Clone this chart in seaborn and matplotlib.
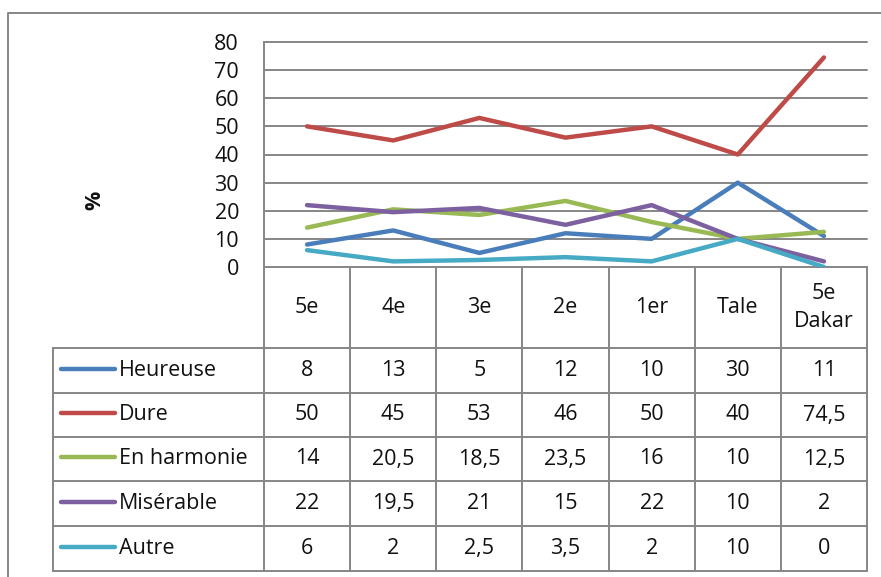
import matplotlib
matplotlib.use("Agg")
import matplotlib.pyplot as plt
import seaborn as sns
import pandas as pd

# Categories (school levels) and series values, in %
levels = ["5e", "4e", "3e", "2e", "1er", "Tale", "5e\nDakar"]
series_names = ["Heureuse", "Dure", "En harmonie", "Misérable", "Autre"]
heureuse = [8, 13, 5, 12, 10, 30, 11]
dure = [50, 45, 53, 46, 50, 40, 74.5]
harmonie = [14, 20.5, 18.5, 23.5, 16, 10, 12.5]
miserable = [22, 19.5, 21, 15, 22, 10, 2]
autre = [6, 2, 2.5, 3.5, 2, 10, 0]
y_ticks = [0, 10, 20, 30, 40, 50, 60, 70, 80]

colors = ["#4A7EBB", "#BE4B48", "#98B954", "#7D60A0", "#46AAC5"]

values = [heureuse, dure, harmonie, miserable, autre]
rows = []
for name, vals in zip(series_names, values):
    for i, v in enumerate(vals):
        rows.append({"serie": name, "pos": i, "val": v})
df = pd.DataFrame(rows)

sns.set_theme(style="white")
plt.rcParams["font.family"] = ["Open Sans", "DejaVu Sans"]

W, H = 881, 577
fig = plt.figure(figsize=(W / 100, H / 100), dpi=100)

grid_c = "#868686"
txt_c = "#111111"
fs = 15.5
px_left, px_right, px_top, px_zero = 264, 867, 42, 267

ax = fig.add_axes([px_left / W, 1 - px_zero / H,
                   (px_right - px_left) / W, (px_zero - px_top) / H])
ax.set_xlim(-0.5, len(levels) - 0.5)
ax.set_ylim(0, 80)
ax.set_yticks(y_ticks)
ax.set_yticklabels([str(t) for t in y_ticks], fontsize=fs, color=txt_c)
ax.set_xticks([])
ax.tick_params(axis="y", length=6, width=1.2, color=grid_c, direction="out", pad=12)
for t in y_ticks:
    ax.axhline(t, color=grid_c, lw=1.4, zorder=1, clip_on=False)
for s in ["top", "right", "bottom"]:
    ax.spines[s].set_visible(False)
ax.spines["left"].set_color(grid_c)
ax.spines["left"].set_linewidth(1.4)

sns.lineplot(data=df, x="pos", y="val", hue="serie", hue_order=series_names,
             palette=colors, sort=False, linewidth=3.2, legend=False, ax=ax,
             zorder=3, solid_capstyle="round", solid_joinstyle="round")
ax.set_xlabel("")
ax.set_ylabel("")

fig.text(95 / W, 1 - 200 / H, "%", rotation=90, fontsize=fs, fontweight="bold",
         ha="center", va="center", color=txt_c)

# Data table below the plot
ov = fig.add_axes([0, 0, 1, 1], zorder=-1)
ov.set_xlim(0, W)
ov.set_ylim(H, 0)
ov.axis("off")

col_w = (px_right - px_left) / len(levels)
col_edges = [px_left + i * col_w for i in range(len(levels) + 1)]
header_bottom = 348
row_edges = [348, 393, 437, 481, 526, 571]
legend_left = 53

# outer chart frame
ov.plot([8, 8, W + 5], [H + 5, 13, 13], color=grid_c, lw=1.4)

# header column lines
for x in col_edges:
    ov.plot([x, x], [px_zero, row_edges[-1]], color=grid_c, lw=1.4)
# row lines
for i, y in enumerate(row_edges):
    ov.plot([legend_left, px_right], [y, y], color=grid_c, lw=1.4)
ov.plot([legend_left, legend_left], [row_edges[0], row_edges[-1]], color=grid_c, lw=1.4)

for j, lab in enumerate(levels):
    cx = (col_edges[j] + col_edges[j + 1]) / 2
    ov.text(cx, (px_zero + header_bottom) / 2, lab, ha="center", va="center",
            fontsize=fs, linespacing=1.4, color=txt_c)

for r, (name, vals, c) in enumerate(zip(series_names, values, colors)):
    cy = (row_edges[r] + row_edges[r + 1]) / 2
    ov.plot([61, 115], [cy - 2, cy - 2], color=c, lw=3.2, solid_capstyle="round")
    ov.text(119, cy, name, ha="left", va="center", fontsize=fs, color=txt_c)
    for j, v in enumerate(vals):
        cx = (col_edges[j] + col_edges[j + 1]) / 2
        txt = f"{v:g}".replace(".", ",")
        ov.text(cx, cy, txt, ha="center", va="center", fontsize=fs, color=txt_c)

fig.savefig("out.png", dpi=100)
